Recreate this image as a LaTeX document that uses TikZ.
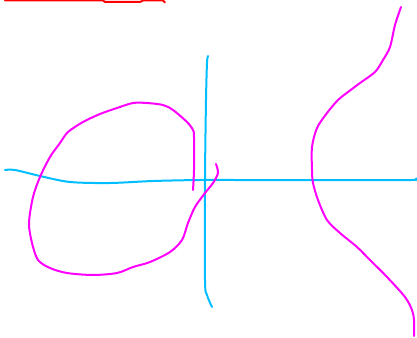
\documentclass[tikz,border=0pt]{standalone}
\definecolor{sky}{RGB}{0,190,255}
\definecolor{pink}{RGB}{255,0,255}
\definecolor{redline}{RGB}{255,0,0}
\tikzset{
  stroke/.style={line width=2pt, line cap=round, line join=round},
  axis/.style={stroke, sky},
  curve/.style={stroke, pink},
}
\begin{document}
\begin{tikzpicture}[x=1pt,y=-1pt]
\useasboundingbox (0,0) rectangle (417,337);
% red top line
\draw[stroke, redline] (5,0.5) -- (103,0.5) -- (105,2) -- (140,2) -- (143,0.5) -- (163,0.5) -- (165,2.5);
% horizontal axis
\draw[axis] plot[smooth, tension=0.5] coordinates {(5,170) (15,170) (40,176) (70,182) (110,183) (153,181) (200,180) (240,180) (412,180) (416,178.5)};
% vertical axis
\draw[axis] plot[smooth, tension=0.5] coordinates {(208,56) (207,63) (206,100) (205,180) (205,280) (207,295) (212,307)};
% loop
\draw[curve] plot[smooth, tension=0.5] coordinates {(193,190) (194,170) (194,137) (193,130) (187,122) (173,110) (163,105) (147,103) (133,103) (117,108) (100,114) (83,122) (68,132) (60,143) (50,157) (40,177) (33,197) (29,223) (32,243) (38,260) (50,268) (67,273) (93,275) (117,273) (133,267) (150,262) (170,252) (182,240) (188,223) (195,207) (205,193) (213,183) (218,173) (216,164)};
% right branch
\draw[curve] plot[smooth, tension=0.5] coordinates {(401,7) (395,25) (390,47) (383,60) (375,72) (360,83) (348,92) (338,100) (327,113) (317,128) (312,147) (312,170) (313,183) (318,200) (327,220) (340,233) (357,247) (370,260) (387,277) (405,297) (412,310) (414,320) (414,336)};
\end{tikzpicture}
\end{document}
